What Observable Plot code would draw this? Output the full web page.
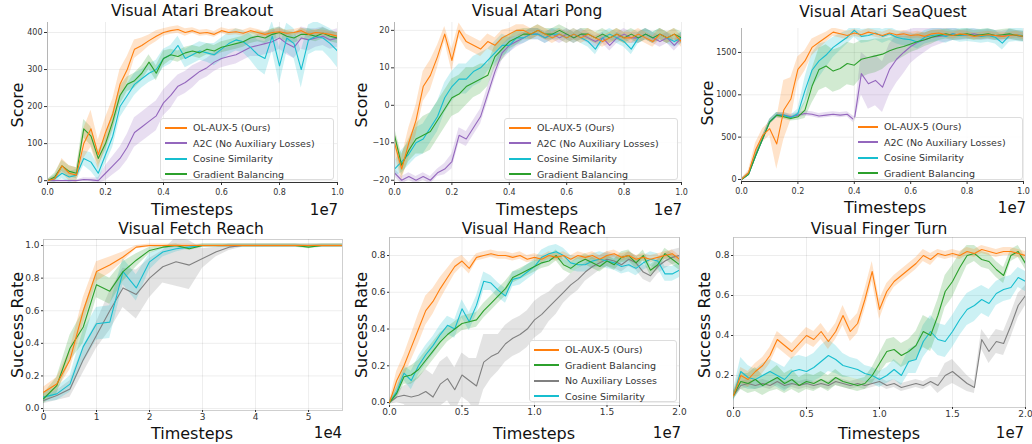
<!DOCTYPE html>
<html><head><meta charset="utf-8">
<script src="https://cdn.jsdelivr.net/npm/d3@7"></script>
<script src="https://cdn.jsdelivr.net/npm/@observablehq/plot@0.6"></script>
<style>
body{margin:0;background:#fff;font-family:"DejaVu Sans",sans-serif;}
#root{position:relative;width:1032px;height:444px;overflow:hidden;background:#fff;}
.pan{position:absolute;}
.pan svg{display:block;}
.lab{position:absolute;white-space:nowrap;transform:translate(-50%,-50%);color:#111;line-height:1;}
.ttl{font-size:15.5px;}
.xl{font-size:16px;}
.ex{font-size:15px;}
.yl{font-size:16px;transform:translate(-50%,-50%) rotate(-90deg);}
.leg{position:absolute;background:rgba(255,255,255,0.85);border:1px solid #ddd;border-radius:3px;box-sizing:border-box;padding-top:1px;}
.row{display:flex;align-items:center;height:15.5px;font-size:9.5px;color:#333;white-space:nowrap;}
.sw{display:inline-block;height:2px;margin-right:6px;}
</style></head>
<body><div id="root"></div>
<script>
// ---------- shared ----------
const atariSteps = [0,0.025,0.05,0.075,0.1,0.125,0.15,0.175,0.2,0.225,0.25,0.275,0.3,0.325,0.35,0.375,0.4,0.425,0.45,0.475,0.5,0.525,0.55,0.575,0.6,0.625,0.65,0.675,0.7,0.725,0.75,0.775,0.8,0.825,0.85,0.875,0.9,0.925,0.95,0.975,1.0];
const robotSteps = [0,0.05,0.1,0.15,0.2,0.25,0.3,0.35,0.4,0.45,0.5,0.55,0.6,0.65,0.7,0.75,0.8,0.85,0.9,0.95,1.0,1.05,1.1,1.15,1.2,1.25,1.3,1.35,1.4,1.45,1.5,1.55,1.6,1.65,1.7,1.75,1.8,1.85,1.9,1.95,2.0];
const fetchSteps = [0,0.25,0.5,0.75,1,1.25,1.5,1.75,2,2.25,2.5,2.75,3,3.25,3.5,3.75,4,4.25,4.5,4.75,5,5.25,5.5,5.64];

const atariLegend = ["OL-AUX-5 (Ours)","A2C (No Auxiliary Losses)","Cosine Similarity","Gradient Balancing"];
const handLegend = ["OL-AUX-5 (Ours)","Gradient Balancing","No Auxiliary Losses","Cosine Similarity"];
const titles = ["Visual Atari Breakout","Visual Atari Pong","Visual Atari SeaQuest","Visual Fetch Reach","Visual Hand Reach","Visual Finger Turn"];
const yLabels = ["Score","Score","Score","Success Rate","Success Rate","Success Rate"];
const xLabel = "Timesteps";
const exponents = ["1e7","1e7","1e7","1e4","1e7","1e7"];

const atariXTicks = [0,0.2,0.4,0.6,0.8,1.0];
const robotXTicks = [0,0.5,1.0,1.5,2.0];
const fetchXTicks = [0,1,2,3,4,5];
const breakoutYTicks = [0,100,200,300,400];
const pongYTicks = [-20,-10,0,10,20];
const seaquestYTicks = [0,500,1000,1500];
const fetchYTicks = [0,0.2,0.4,0.6,0.8,1.0];
const handYTicks = [0,0.2,0.4,0.6,0.8];
const fingerYTicks = [0.2,0.4,0.6,0.8];

// ---------- Breakout ----------
const breakoutOurs = [0,5,40,20,15,100,140,70,130,180, 260,300,355,365,378,390,400,405,408,400, 405,398,400,395,405,400,402,398,405,400, 395,400,402,398,400,405,395,400,398,395, 390];
const breakoutOursSd = [3,8,20,20,20,40,50,40,40,40, 40,35,25,20,15,15,10,10,10,10, 8,8,8,8,8,8,8,8,8,8, 8,8,8,8,8,8,8,8,8,8, 10];
const breakoutA2C = [0,0,0,0,0,3,2,0,20,40, 60,90,130,145,160,175,210,230,255,265, 280,295,305,320,330,335,340,350,360,365, 370,375,385,370,360,385,380,385,390,380, 385];
const breakoutA2CSd = [2,2,2,2,2,5,5,8,20,25, 30,35,40,40,40,40,35,35,30,30, 30,25,25,25,25,25,25,25,25,30, 30,30,30,30,30,30,30,25,25,25, 25];
const breakoutCos = [0,5,20,10,15,60,50,20,70,120, 200,230,260,275,290,300,330,340,365,330, 340,350,345,340,355,370,380,375,360,340, 330,390,310,385,370,300,380,390,385,370, 350];
const breakoutCosSd = [3,10,15,15,15,20,25,20,25,30, 30,30,30,25,25,25,25,25,25,25, 25,25,25,30,30,30,30,30,35,40, 45,40,50,40,40,50,40,40,35,40, 45];
const breakoutGrad = [0,10,40,25,20,140,120,60,100,160, 230,260,270,290,320,290,330,340,335,345, 350,345,355,350,360,365,370,375,385,390, 385,395,400,390,385,395,395,390,398,390, 385];
const breakoutGradSd = [3,10,15,15,15,25,25,20,20,25, 25,20,20,20,20,20,20,15,15,15, 15,15,15,15,15,15,15,15,15,15, 15,15,15,15,15,15,15,15,15,15, 15];

// ---------- Pong ----------
const pongOurs = [-10,-17,-10,-4,5,8,13,19,12,20, 17,16,15,17,16,18,19,20,20,19, 20,19,18,19,18,19,18,19,18,17, 18,19,18,18,19,18,17,19,18,19, 17];
const pongOursSd = [3,3,4,4,4,4,3,2,3,2, 2,2,2,2,2,2,1.5,1.5,1.5,1.5, 1.5,1.5,1.5,1.5,1.5,1.5,1.5,1.5,1.5,1.5, 1.5,1.5,1.5,1.5,1.5,1.5,1.5,1.5,1.5,1.5, 1.5];
const pongA2C = [-18,-20,-19,-20,-19,-20,-18,-17,-15,-8, -9,-6,-3,3,9,14,16,17,18,19, 19,18,19,18,19,18,19,18,17,18, 16,18,19,18,18,19,18,17,18,16, 18];
const pongA2CSd = [1,1,1,1,1,1,1,1.5,2,2, 2,2,2,2,2,2,2,1.5,1.5,1.5, 1.5,1.5,1.5,1.5,1.5,1.5,1.5,1.5,1.5,1.5, 1.5,1.5,1.5,1.5,1.5,1.5,1.5,1.5,1.5,1.5, 1.5];
const pongCos = [-17,-15,-13,-10,-9,-6,-3,2,5,7, 7,9,10,12,14,16,16,18,18,19, 19,18,19,19,18,19,18,17,15,18, 19,18,17,15,18,19,18,19,18,17, 18];
const pongCosSd = [2,3,3,4,4,4,4,4,4,4, 4,4,4,3,3,3,2,2,1.5,1.5, 1.5,1.5,1.5,1.5,1.5,1.5,1.5,1.5,1.5,1.5, 1.5,1.5,1.5,1.5,1.5,1.5,1.5,1.5,1.5,1.5, 1.5];
const pongGrad = [-8,-16,-12,-9,-8,-7,-4,-1,2,3, 5,6,7,8,13,15,17,18,19,19, 20,19,19,20,19,18,19,19,18,19, 18,19,18,19,18,19,18,19,18,19, 18];
const pongGradSd = [2,3,3,4,5,5,5,5,5,5, 5,4,4,3,3,3,2,2,1.5,1.5, 1.5,1.5,1.5,1.5,1.5,1.5,1.5,1.5,1.5,1.5, 1.5,1.5,1.5,1.5,1.5,1.5,1.5,1.5,1.5,1.5, 1.5];

// ---------- SeaQuest ----------
const seaOurs = [0,80,350,520,600,420,820,950,1300,1400, 1560,1620,1680,1740,1720,1700,1730,1710,1740,1720, 1700,1730,1710,1720,1700,1710,1690,1720,1730,1710, 1700,1720,1710,1690,1700,1710,1700,1690,1700,1710, 1690];
const seaOursSd = [10,30,80,80,80,300,350,250,150,120, 100,80,60,50,50,50,40,40,40,40, 40,40,40,40,40,40,40,40,40,40, 40,40,40,40,40,40,40,40,40,40, 40];
const seaA2C = [0,60,280,480,680,760,760,740,760,780, 770,750,760,770,760,770,700,1250,1130,1170, 1090,1300,1420,1500,1570,1620,1650,1680,1690,1700, 1720,1700,1710,1720,1700,1710,1700,1690,1710,1700, 1690];
const seaA2CSd = [10,20,40,40,30,30,30,30,30,30, 30,30,30,30,30,30,40,250,300,300, 300,300,280,250,200,180,150,120,100,80, 80,60,60,60,60,60,60,60,60,60, 60];
const seaCos = [0,60,280,480,680,760,760,730,780,1050, 1290,1400,1470,1560,1620,1680,1760,1690,1700,1730, 1690,1720,1680,1660,1650,1620,1680,1700,1710,1690, 1720,1700,1710,1700,1690,1700,1680,1610,1700,1710, 1700];
const seaCosSd = [10,20,40,40,30,30,30,30,50,150, 200,200,150,120,100,80,80,80,80,80, 80,80,80,80,80,80,80,80,80,80, 80,80,80,80,80,80,80,80,80,80, 80];
const seaGrad = [0,60,280,480,680,760,740,720,740,820, 1100,1300,1340,1280,1310,1370,1350,1420,1440,1460, 1480,1520,1550,1570,1600,1630,1650,1680,1700,1720, 1700,1710,1720,1700,1710,1720,1700,1710,1720,1700, 1690];
const seaGradSd = [10,20,40,40,30,30,30,30,40,100, 200,250,250,250,250,250,250,220,200,200, 180,150,150,120,100,100,80,80,60,60, 60,60,60,60,60,60,60,60,60,60, 60];

// ---------- Fetch Reach ----------
const fetchOurs = [0.1,0.15,0.3,0.6,0.84,0.88,0.93,0.99,1.0,1.0, 1.0,1.0,1.0,1.0,1.0,1.0,1.0,1.0,1.0,1.0, 1.0,1.0,1.0,1.0];
const fetchOursSd = [0.03,0.04,0.06,0.08,0.06,0.05,0.03,0.01,0.01,0.01, 0.01,0.01,0.01,0.01,0.01,0.01,0.01,0.01,0.01,0.01, 0.01,0.01,0.01,0.01];
const fetchGrad = [0.06,0.14,0.37,0.5,0.76,0.72,0.84,0.91,0.97,0.99, 1.0,0.98,1.0,1.0,1.0,1.0,1.0,1.0,1.0,1.0, 0.99,1.0,1.0,1.0];
const fetchGradSd = [0.03,0.05,0.08,0.1,0.08,0.08,0.06,0.04,0.02,0.01, 0.01,0.01,0.01,0.01,0.01,0.01,0.01,0.01,0.01,0.01, 0.01,0.01,0.01,0.01];
const fetchCos = [0.07,0.09,0.15,0.38,0.52,0.53,0.84,0.74,0.9,0.96, 0.98,0.99,1.0,1.0,1.0,1.0,1.0,1.0,1.0,1.0, 1.0,1.0,1.0,1.0];
const fetchCosSd = [0.03,0.04,0.05,0.1,0.1,0.1,0.08,0.08,0.05,0.03, 0.02,0.01,0.01,0.01,0.01,0.01,0.01,0.01,0.01,0.01, 0.01,0.01,0.01,0.01];
const fetchNoAux = [0.05,0.08,0.12,0.3,0.45,0.6,0.74,0.7,0.8,0.87, 0.9,0.88,0.92,0.96,0.99,1.0,1.0,1.0,1.0,1.0, 1.0,1.0,1.0,1.0];
const fetchNoAuxSd = [0.02,0.03,0.05,0.08,0.08,0.12,0.12,0.15,0.12,0.1, 0.15,0.15,0.06,0.03,0.02,0.01,0.01,0.01,0.01,0.01, 0.01,0.01,0.01,0.01];

// ---------- Hand Reach ----------
const handOurs = [0,0.12,0.2,0.3,0.4,0.5,0.55,0.62,0.68,0.74, 0.77,0.73,0.79,0.8,0.81,0.8,0.8,0.79,0.8,0.78, 0.79,0.78,0.8,0.79,0.8,0.78,0.8,0.79,0.8,0.78, 0.8,0.81,0.79,0.8,0.78,0.79,0.78,0.79,0.8,0.81, 0.78];
const handOursSd = [0.01,0.05,0.06,0.07,0.08,0.08,0.07,0.06,0.05,0.04, 0.03,0.03,0.02,0.02,0.02,0.02,0.02,0.02,0.02,0.02, 0.02,0.02,0.02,0.02,0.02,0.02,0.02,0.02,0.02,0.02, 0.02,0.02,0.02,0.02,0.02,0.02,0.02,0.02,0.02,0.02, 0.02];
const handGrad = [0,0.05,0.14,0.15,0.18,0.23,0.28,0.33,0.37,0.4, 0.43,0.44,0.45,0.5,0.54,0.58,0.62,0.68,0.7,0.72, 0.74,0.76,0.77,0.8,0.75,0.73,0.76,0.78,0.76,0.74, 0.77,0.75,0.79,0.8,0.76,0.8,0.72,0.75,0.81,0.78, 0.75];
const handGradSd = [0.01,0.03,0.04,0.05,0.05,0.05,0.05,0.05,0.04,0.04, 0.04,0.04,0.04,0.04,0.04,0.04,0.04,0.03,0.03,0.03, 0.03,0.03,0.03,0.03,0.03,0.03,0.03,0.03,0.03,0.03, 0.03,0.03,0.03,0.03,0.03,0.03,0.03,0.03,0.03,0.03, 0.03];
const handNoAux = [0,0.03,0.04,0.03,0.04,0.06,0.03,0.1,0.13,0.07, 0.15,0.12,0.09,0.22,0.25,0.27,0.32,0.35,0.37,0.4, 0.45,0.48,0.52,0.56,0.6,0.64,0.67,0.71,0.74,0.76, 0.78,0.77,0.75,0.78,0.76,0.71,0.69,0.74,0.77,0.79, 0.8];
const handNoAuxSd = [0.01,0.03,0.05,0.08,0.1,0.12,0.12,0.12,0.12,0.12, 0.12,0.12,0.15,0.15,0.12,0.1,0.1,0.1,0.1,0.1, 0.1,0.1,0.08,0.08,0.06,0.06,0.06,0.05,0.05,0.04, 0.04,0.04,0.04,0.04,0.04,0.04,0.04,0.04,0.04,0.04, 0.04];
const handCos = [0,0.06,0.16,0.12,0.2,0.26,0.31,0.37,0.42,0.4, 0.51,0.44,0.53,0.66,0.65,0.61,0.58,0.67,0.68,0.71, 0.74,0.79,0.81,0.82,0.8,0.76,0.75,0.75,0.77,0.78, 0.77,0.76,0.74,0.75,0.73,0.76,0.78,0.77,0.7,0.7, 0.72];
const handCosSd = [0.01,0.03,0.04,0.05,0.05,0.05,0.05,0.05,0.05,0.05, 0.05,0.05,0.05,0.05,0.04,0.04,0.04,0.04,0.04,0.04, 0.04,0.04,0.04,0.04,0.04,0.04,0.04,0.04,0.04,0.04, 0.04,0.04,0.04,0.04,0.04,0.04,0.04,0.04,0.04,0.04, 0.04];

// ---------- Finger Turn ----------
const fingerOurs = [0.1,0.2,0.18,0.22,0.25,0.3,0.38,0.35,0.32,0.36, 0.4,0.38,0.42,0.37,0.42,0.5,0.42,0.46,0.58,0.72, 0.53,0.62,0.67,0.7,0.73,0.76,0.8,0.78,0.81,0.8, 0.81,0.8,0.82,0.81,0.83,0.82,0.81,0.82,0.82,0.81, 0.8];
const fingerOursSd = [0.02,0.04,0.04,0.04,0.04,0.04,0.04,0.04,0.04,0.04, 0.04,0.04,0.04,0.04,0.04,0.05,0.05,0.05,0.05,0.05, 0.05,0.04,0.03,0.03,0.03,0.03,0.03,0.03,0.02,0.02, 0.02,0.02,0.02,0.02,0.02,0.02,0.02,0.02,0.02,0.02, 0.02];
const fingerGrad = [0.1,0.17,0.16,0.18,0.15,0.17,0.19,0.16,0.18,0.15, 0.17,0.16,0.18,0.16,0.19,0.17,0.16,0.15,0.16,0.2, 0.26,0.32,0.33,0.3,0.32,0.35,0.42,0.4,0.5,0.62, 0.67,0.74,0.8,0.81,0.78,0.77,0.73,0.7,0.8,0.82, 0.76];
const fingerGradSd = [0.02,0.04,0.05,0.06,0.05,0.05,0.06,0.05,0.05,0.04, 0.04,0.04,0.04,0.04,0.04,0.03,0.03,0.03,0.03,0.04, 0.05,0.06,0.06,0.06,0.06,0.07,0.08,0.08,0.08,0.08, 0.08,0.07,0.05,0.04,0.04,0.04,0.04,0.04,0.03,0.03, 0.03];
const fingerCos = [0.1,0.22,0.19,0.18,0.2,0.22,0.2,0.18,0.22,0.23, 0.22,0.24,0.27,0.3,0.28,0.25,0.24,0.23,0.21,0.2, 0.18,0.2,0.23,0.2,0.27,0.28,0.37,0.42,0.38,0.37, 0.42,0.48,0.53,0.55,0.58,0.56,0.61,0.63,0.64,0.69, 0.67];
const fingerCosSd = [0.03,0.07,0.06,0.05,0.06,0.06,0.06,0.06,0.07,0.07, 0.07,0.07,0.08,0.08,0.07,0.06,0.05,0.05,0.04,0.04, 0.04,0.04,0.05,0.05,0.06,0.07,0.08,0.08,0.08,0.08, 0.08,0.08,0.08,0.08,0.07,0.07,0.06,0.06,0.06,0.05, 0.05];
const fingerNoAux = [0.1,0.15,0.16,0.15,0.16,0.15,0.17,0.15,0.16,0.15, 0.16,0.15,0.16,0.15,0.17,0.16,0.15,0.16,0.15,0.16, 0.17,0.15,0.16,0.14,0.15,0.16,0.15,0.17,0.15,0.2, 0.22,0.19,0.16,0.14,0.38,0.32,0.37,0.36,0.45,0.55, 0.6];
const fingerNoAuxSd = [0.02,0.02,0.02,0.02,0.02,0.02,0.02,0.02,0.02,0.02, 0.02,0.02,0.02,0.02,0.02,0.02,0.02,0.02,0.02,0.02, 0.02,0.02,0.02,0.02,0.02,0.02,0.02,0.02,0.04,0.06, 0.06,0.05,0.04,0.03,0.05,0.06,0.06,0.06,0.06,0.06, 0.05];

// ---------- styling ----------
const C = {ours:"#ff7f0e", a2c:"#9467bd", cos:"#17becf", grad:"#2ca02c", noaux:"#808080"};
const f1 = d3.format(".1f");

const panels = [
  {left:0, top:0, xs:atariSteps, xDomain:[0,1], yDomain:[-5,427], m:[22,7,40,47], xTicks:atariXTicks, yTicks:breakoutYTicks, xFmt:f1, yFmt:d=>String(d), top_row:true,
   series:[{y:breakoutA2C,sd:breakoutA2CSd,c:C.a2c},{y:breakoutCos,sd:breakoutCosSd,c:C.cos},{y:breakoutGrad,sd:breakoutGradSd,c:C.grad},{y:breakoutOurs,sd:breakoutOursSd,c:C.ours}],
   labels:{title:[192,12], xl:[192,210], ex:[324,210], yl:[18,105]},
   legend:{items:atariLegend, colors:[C.ours,C.a2c,C.cos,C.grad], box:[160,118,174,62], sw:22}},
  {left:344, top:0, xs:atariSteps, xDomain:[0,1], yDomain:[-20.6,22.1], m:[22,7,40,50], xTicks:atariXTicks, yTicks:pongYTicks, xFmt:f1, yFmt:d=>d<0?"\u2212"+(-d):String(d), top_row:true,
   series:[{y:pongA2C,sd:pongA2CSd,c:C.a2c},{y:pongCos,sd:pongCosSd,c:C.cos},{y:pongGrad,sd:pongGradSd,c:C.grad},{y:pongOurs,sd:pongOursSd,c:C.ours}],
   labels:{title:[537,12], xl:[537,210], ex:[668,210], yl:[362,105]},
   legend:{items:atariLegend, colors:[C.ours,C.a2c,C.cos,C.grad], box:[504,118,174,62], sw:22}},
  {left:688, top:0, xs:atariSteps, xDomain:[0,1], yDomain:[-24,1783], m:[28,9,41,53], xTicks:atariXTicks, yTicks:seaquestYTicks, xFmt:f1, yFmt:d=>String(d), top_row:true,
   series:[{y:seaA2C,sd:seaA2CSd,c:C.a2c},{y:seaCos,sd:seaCosSd,c:C.cos},{y:seaGrad,sd:seaGradSd,c:C.grad},{y:seaOurs,sd:seaOursSd,c:C.ours}],
   labels:{title:[883,13], xl:[885,208], ex:[1012,208], yl:[708,103]},
   legend:{items:atariLegend, colors:[C.ours,C.a2c,C.cos,C.grad], box:[853,117,170,63], sw:20}},
  {left:0, top:222, xs:fetchSteps, xDomain:[0,5.64], yDomain:[-0.012,1.037], m:[17,2,34,43], xTicks:fetchXTicks, yTicks:fetchYTicks, xFmt:d=>String(d), yFmt:f1, top_row:false,
   series:[{y:fetchNoAux,sd:fetchNoAuxSd,c:C.noaux},{y:fetchCos,sd:fetchCosSd,c:C.cos},{y:fetchGrad,sd:fetchGradSd,c:C.grad},{y:fetchOurs,sd:fetchOursSd,c:C.ours}],
   labels:{title:[191,230], xl:[192,434], ex:[328,433], yl:[18,325]}},
  {left:344, top:222, xs:robotSteps, xDomain:[0,2], yDomain:[-0.016,0.898], m:[15,9,39,45], xTicks:robotXTicks, yTicks:handYTicks, xFmt:f1, yFmt:f1, top_row:false,
   series:[{y:handNoAux,sd:handNoAuxSd,c:C.noaux},{y:handCos,sd:handCosSd,c:C.cos},{y:handGrad,sd:handGradSd,c:C.grad},{y:handOurs,sd:handOursSd,c:C.ours}],
   labels:{title:[534,230], xl:[534,434], ex:[667,433], yl:[362,325]},
   legend:{items:handLegend, colors:[C.ours,C.grad,C.noaux,C.cos], box:[529,340,148,62], sw:25}},
  {left:688, top:222, xs:robotSteps, xDomain:[0,2], yDomain:[0.04,0.89], m:[15,7,37,45], xTicks:robotXTicks, yTicks:fingerYTicks, xFmt:f1, yFmt:f1, top_row:false,
   series:[{y:fingerNoAux,sd:fingerNoAuxSd,c:C.noaux},{y:fingerCos,sd:fingerCosSd,c:C.cos},{y:fingerGrad,sd:fingerGradSd,c:C.grad},{y:fingerOurs,sd:fingerOursSd,c:C.ours}],
   labels:{title:[879,230], xl:[879,434], ex:[1010,433], yl:[705,325]}}
];

const root = document.getElementById("root");
function addLabel(text, cls, pos){
  const d = document.createElement("div");
  d.className = "lab " + cls; d.textContent = text;
  d.style.left = pos[0] + "px"; d.style.top = pos[1] + "px";
  root.appendChild(d);
}

panels.forEach((p, k) => {
  const marks = [];
  if (!p.top_row) marks.push(Plot.frame({stroke:"#cfcfcf"}));
  marks.push(Plot.gridX({ticks:p.xTicks, stroke:"#000", strokeOpacity:0.07}));
  marks.push(Plot.gridY({ticks:p.yTicks, stroke:"#000", strokeOpacity:0.07}));
  const tables = p.series.map(s => p.xs.map((x,i) => ({x, y:s.y[i], lo:s.y[i]-s.sd[i], hi:s.y[i]+s.sd[i]})));
  p.series.forEach((s,j) => marks.push(Plot.areaY(tables[j], {x:"x", y1:"lo", y2:"hi", fill:s.c, fillOpacity:0.22, clip:true})));
  p.series.forEach((s,j) => marks.push(Plot.lineY(tables[j], {x:"x", y:"y", stroke:s.c, strokeWidth:1.1, clip:true})));
  if (p.top_row) {
    marks.push(Plot.frame({anchor:"left", stroke:"#b5b5b5"}));
    marks.push(Plot.frame({anchor:"bottom", stroke:"#333"}));
  }
  const fs = p.top_row ? 8 : 9;
  marks.push(Plot.axisX({ticks:p.xTicks, tickFormat:p.xFmt, tickSize:p.top_row?3:2, tickPadding:p.top_row?4:1, fontSize:fs, color:"#333", label:null}));
  marks.push(Plot.axisY({ticks:p.yTicks, tickFormat:p.yFmt, tickSize:p.top_row?3:2, tickPadding:2, fontSize:fs, color:"#333", label:null}));
  const svg = Plot.plot({
    width:344, height:222,
    marginTop:p.m[0], marginRight:p.m[1], marginBottom:p.m[2], marginLeft:p.m[3],
    x:{domain:p.xDomain}, y:{domain:p.yDomain},
    style:{fontFamily:"DejaVu Sans", background:"transparent", overflow:"visible"},
    marks
  });
  const wrap = document.createElement("div");
  wrap.className = "pan"; wrap.style.left = p.left + "px"; wrap.style.top = p.top + "px";
  wrap.appendChild(svg); root.appendChild(wrap);

  addLabel(titles[k], "ttl", p.labels.title);
  addLabel(xLabel, "xl", p.labels.xl);
  addLabel(exponents[k], "ex", p.labels.ex);
  addLabel(yLabels[k], "yl", p.labels.yl);

  if (p.legend) {
    const L = p.legend, b = L.box;
    const box = document.createElement("div");
    box.className = "leg";
    box.style.left = b[0]+"px"; box.style.top = b[1]+"px"; box.style.width = b[2]+"px"; box.style.height = b[3]+"px";
    box.style.paddingLeft = "4px";
    L.items.forEach((name,i) => {
      const r = document.createElement("div"); r.className = "row";
      const sw = document.createElement("span"); sw.className = "sw";
      sw.style.width = L.sw + "px"; sw.style.background = L.colors[i];
      r.appendChild(sw); r.appendChild(document.createTextNode(name));
      box.appendChild(r);
    });
    root.appendChild(box);
  }
});
</script>
</body></html>
